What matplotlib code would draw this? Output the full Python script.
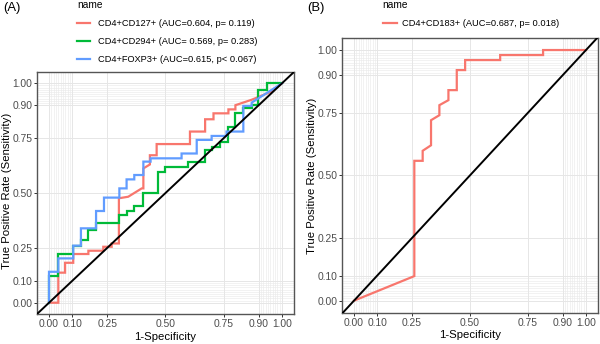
import matplotlib
matplotlib.use("Agg")
import matplotlib.pyplot as plt
from matplotlib.lines import Line2D
import numpy as np

plt.rcParams['font.family'] = ['Liberation Sans', 'DejaVu Sans']

# ---------------- data ----------------
# Panel A: CD4+CD127+
a_red_fpr = [0, 0.04, 0.04, 0.069, 0.069, 0.104, 0.104, 0.169, 0.169, 0.233, 0.233, 0.269, 0.269,
             0.30, 0.30, 0.34, 0.398, 0.405, 0.405, 0.433, 0.433, 0.462, 0.462, 0.605, 0.605,
             0.670, 0.670, 0.706, 0.706, 0.77, 0.77, 0.80, 0.80, 0.87, 0.95, 1.0]
a_red_tpr = [0, 0, 0.137, 0.137, 0.182, 0.182, 0.222, 0.222, 0.237, 0.237, 0.255, 0.255, 0.27,
             0.27, 0.476, 0.483, 0.521, 0.521, 0.612, 0.63, 0.672, 0.672, 0.723, 0.723, 0.78,
             0.78, 0.836, 0.836, 0.863, 0.863, 0.881, 0.881, 0.90, 0.925, 0.96, 1.0]
# Panel A: CD4+CD294+
a_grn_fpr = [0, 0, 0.04, 0.04, 0.104, 0.104, 0.137, 0.137, 0.169, 0.169, 0.202, 0.202, 0.30, 0.30,
             0.333, 0.333, 0.366, 0.366, 0.405, 0.405, 0.469, 0.469, 0.50, 0.50, 0.598, 0.598,
             0.670, 0.670, 0.698, 0.698, 0.734, 0.734, 0.77, 0.77, 0.798, 0.798, 0.834, 0.834,
             0.87, 0.87, 0.898, 0.898, 0.934, 0.934, 1.0]
a_grn_tpr = [0, 0.122, 0.122, 0.222, 0.222, 0.26, 0.26, 0.286, 0.286, 0.331, 0.331, 0.362, 0.362, 0.40,
             0.40, 0.419, 0.419, 0.44, 0.44, 0.498, 0.498, 0.597, 0.597, 0.62, 0.62, 0.643,
             0.643, 0.696, 0.696, 0.711, 0.711, 0.734, 0.734, 0.802, 0.802, 0.863, 0.863, 0.886,
             0.886, 0.90, 0.90, 0.97, 0.97, 1.0, 1.0]
# Panel A: CD4+FOXP3+
a_blu_fpr = [0, 0, 0.04, 0.04, 0.104, 0.104, 0.137, 0.137, 0.202, 0.202, 0.236, 0.236, 0.302, 0.302,
             0.333, 0.333, 0.366, 0.366, 0.405, 0.405, 0.436, 0.436, 0.569, 0.569, 0.634, 0.634,
             0.698, 0.698, 0.762, 0.762, 0.834, 0.834, 0.87, 0.87, 1.0]
a_blu_tpr = [0, 0.141, 0.141, 0.202, 0.202, 0.26, 0.26, 0.339, 0.339, 0.418, 0.418, 0.479, 0.479, 0.521,
             0.521, 0.562, 0.562, 0.582, 0.582, 0.643, 0.643, 0.658, 0.658, 0.68, 0.68, 0.742,
             0.742, 0.76, 0.76, 0.78, 0.78, 0.897, 0.897, 0.912, 1.0]
# Panel B: CD4+CD183+
b_red_fpr = [0, 0.26, 0.26, 0.296, 0.296, 0.332, 0.332, 0.368, 0.368, 0.407, 0.407, 0.443, 0.443,
             0.479, 0.479, 0.63, 0.63, 0.815, 0.815, 1.0]
b_red_tpr = [0, 0.098, 0.558, 0.558, 0.598, 0.62, 0.72, 0.74, 0.78, 0.80, 0.84, 0.84, 0.92,
             0.92, 0.96, 0.96, 0.98, 0.98, 1.0, 1.0]

a_labels = ["CD4+CD127+ (AUC=0.604, p= 0.119)",
            "CD4+CD294+ (AUC= 0.569, p= 0.283)",
            "CD4+FOXP3+ (AUC=0.615, p< 0.067)"]
b_labels = ["CD4+CD183+ (AUC=0.687, p= 0.018)"]
colors = ["#F8766D", "#00BA38", "#619CFF"]

major_breaks = [0, 0.1, 0.25, 0.5, 0.75, 0.9, 1.0]
minor_breaks = list(np.round(np.arange(0, 0.101, 0.01), 2)) + list(np.round(np.arange(0.9, 1.001, 0.01), 2))
tick_labels = ["0.00", "0.10", "0.25", "0.50", "0.75", "0.90", "1.00"]

W, H = 600, 344
fig = plt.figure(figsize=(W / 100, H / 100), dpi=100)


def px_rect(l, t, r, b):
    return [l / W, 1 - b / H, (r - l) / W, (b - t) / H]


def style(ax):
    ax.set_xlim(-0.05, 1.05)
    ax.set_ylim(-0.05, 1.05)
    for v in minor_breaks:
        ax.axvline(v, color="#EBEBEB", lw=0.45, zorder=0)
        ax.axhline(v, color="#EBEBEB", lw=0.45, zorder=0)
    for v in major_breaks:
        ax.axvline(v, color="#E6E6E6", lw=0.7, zorder=0)
        ax.axhline(v, color="#E6E6E6", lw=0.7, zorder=0)
    ax.set_xticks(major_breaks)
    ax.set_yticks(major_breaks)
    ax.set_xticklabels(tick_labels)
    ax.set_yticklabels(tick_labels)
    ax.tick_params(length=2.2, width=0.7, color="#333333", labelcolor="#4D4D4D",
                   labelsize=7.4, pad=1.5)
    for s in ax.spines.values():
        s.set_color("#555555")
        s.set_linewidth(1.0)
    ax.set_xlabel("1-Specificity", fontsize=8.2)
    ax.set_ylabel("True Positive Rate (Sensitivity)", fontsize=8.2)
    ax.xaxis.label.set_va("center")
    ax.yaxis.label.set_va("center")


def fx(x):
    return x / W


def fy(y):
    return 1 - y / H


# Panel A
axA = fig.add_axes(px_rect(37.35, 72.3, 293.65, 313.7))
style(axA)
axA.plot(a_red_fpr, a_red_tpr, color=colors[0], lw=1.6, zorder=3, solid_joinstyle="miter")
axA.plot(a_grn_fpr, a_grn_tpr, color=colors[1], lw=1.6, zorder=3, solid_joinstyle="miter")
axA.plot(a_blu_fpr, a_blu_tpr, color=colors[2], lw=1.6, zorder=3, solid_joinstyle="miter")
axA.axline((0, 0), slope=1, color="black", lw=1.4, zorder=4)
axA.xaxis.set_label_coords(0.498, -0.0965)
axA.yaxis.set_label_coords(-0.1196, 0.509)

# Panel B
axB = fig.add_axes(px_rect(342.4, 37.5, 597.6, 313.2))
style(axB)
axB.plot(b_red_fpr, b_red_tpr, color=colors[0], lw=1.6, zorder=3, solid_joinstyle="miter")
axB.axline((0, 0), slope=1, color="black", lw=1.4, zorder=4)
axB.xaxis.set_label_coords(0.499, -0.079)
axB.yaxis.set_label_coords(-0.120, 0.498)

# panel tags
fig.text(fx(3), fy(7.5), "(A)", fontsize=9.4, va="center", ha="left")
fig.text(fx(307), fy(7.5), "(B)", fontsize=9.4, va="center", ha="left")

# legends
fig.text(fx(77), fy(5.5), "name", fontsize=7.3, va="center", ha="left")
for i, lab in enumerate(a_labels):
    y = [23.3, 41.0, 59.3][i]
    fig.add_artist(Line2D([fx(77), fx(90)], [fy(y), fy(y)], color=colors[i], lw=1.6))
    fig.text(fx(98.3), fy(y), lab, fontsize=6.7, va="center", ha="left")

fig.text(fx(382), fy(5.5), "name", fontsize=7.3, va="center", ha="left")
for i, lab in enumerate(b_labels):
    y = 23.3
    fig.add_artist(Line2D([fx(383), fx(397)], [fy(y), fy(y)], color=colors[i], lw=1.6))
    fig.text(fx(401.7), fy(y), lab, fontsize=6.7, va="center", ha="left")

fig.savefig("out.png", dpi=100)
